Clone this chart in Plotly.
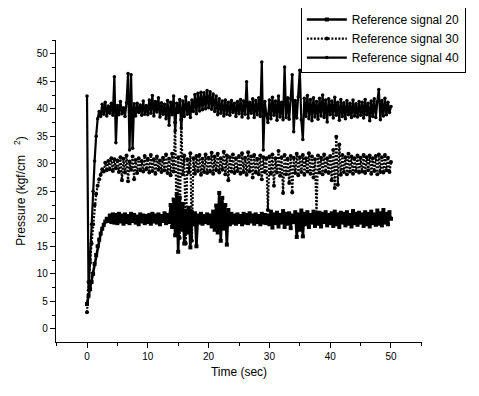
import numpy as np
import plotly.graph_objects as go

# sampling times (s), 0.25 s step
time_s = [round(v, 2) for v in np.arange(0, 50.001, 0.25)]

ref20 = [
    4.5, 6.0, 7.2, 8.5, 10.0, 11.8, 13.4, 15.0, 16.2, 17.3, 18.2, 18.9, 19.5, 20.0, 19.6, 20.6, 19.4, 20.8, 19.3, 20.7,
    19.2, 20.9, 19.5, 20.6, 19.1, 20.8, 19.4, 20.5, 19.2, 20.9, 19.6, 20.7, 19.3, 20.4, 19.0, 20.8, 19.5, 20.6, 19.2, 20.5,
    19.4, 20.7, 19.1, 20.9, 19.5, 20.6, 19.3, 20.8, 19.0, 20.5, 19.6, 21.0, 19.2, 20.7, 19.4, 22.5, 18.5, 23.5, 17.0, 24.5,
    14.0, 23.8, 18.0, 22.7, 15.5, 21.5, 17.5, 22.0, 14.8, 21.2, 19.0, 21.0, 15.0, 20.6, 19.3, 20.9, 19.1, 20.5, 19.4, 20.8,
    19.2, 20.6, 18.6, 21.3, 18.0, 22.4, 17.5, 24.7, 16.0, 23.8, 18.2, 22.5, 15.3, 21.6, 19.0, 20.9, 19.3, 20.6, 19.1, 20.8,
    19.4, 20.5, 19.0, 20.9, 19.3, 20.7, 19.2, 21.0, 19.5, 20.6, 19.1, 20.8, 19.4, 20.5, 19.0, 20.9, 19.3, 20.7, 19.2, 20.6,
    19.0, 21.3, 18.4, 20.8, 19.2, 21.1, 18.6, 20.7, 19.3, 21.4, 18.5, 20.9, 19.1, 21.0, 18.3, 20.6, 19.4, 21.2, 16.7, 20.8,
    18.0, 21.5, 16.8, 20.9, 19.0, 21.2, 18.5, 20.7, 19.3, 21.3, 18.7, 20.8, 19.1, 21.1, 18.6, 20.9, 19.4, 21.2, 18.8, 20.7,
    19.2, 21.0, 18.7, 21.3, 19.0, 20.8, 18.5, 21.1, 19.3, 20.9, 18.8, 21.2, 19.1, 20.7, 18.6, 21.4, 19.2, 20.9, 18.9, 21.1,
    19.3, 20.8, 18.7, 21.2, 19.0, 20.9, 18.6, 21.3, 19.2, 20.8, 18.9, 21.5, 19.1, 21.0, 18.8, 21.6, 19.3, 20.9, 19.0, 21.2, 20.0,
]

ref30 = [
    3.0, 8.5, 12.0, 15.5, 19.0, 22.5, 24.5, 26.0, 27.2, 28.0, 29.0, 28.6, 30.2, 28.8, 30.5, 29.0, 31.0, 28.7, 30.8, 29.2,
    30.6, 28.5, 31.2, 27.0, 30.9, 28.4, 31.5, 26.8, 30.4, 28.9, 31.3, 27.2, 30.7, 28.3, 31.0, 28.8, 30.5, 28.6, 31.4, 29.0,
    30.9, 28.4, 31.6, 28.7, 30.8, 28.2, 31.3, 28.9, 30.6, 28.5, 31.1, 28.8, 31.7, 28.3, 30.9, 27.9, 31.8, 28.6, 37.5, 17.0,
    31.2, 16.5, 38.0, 28.1, 31.5, 15.5, 30.8, 28.4, 31.9, 16.0, 31.0, 28.2, 31.4, 28.7, 31.6, 28.0, 30.9, 28.5, 31.7, 28.3,
    31.1, 28.6, 32.0, 28.2, 31.3, 28.8, 31.8, 28.4, 31.0, 28.9, 32.2, 28.1, 31.5, 27.0, 31.2, 28.6, 31.7, 28.3, 31.0, 28.7,
    31.4, 28.2, 31.9, 28.5, 31.1, 28.0, 32.1, 28.6, 31.3, 27.5, 31.6, 28.4, 30.9, 28.1, 31.5, 27.2, 31.2, 28.5, 31.0, 21.6,
    31.3, 28.2, 31.7, 26.0, 31.0, 28.4, 32.3, 27.8, 31.2, 24.7, 31.6, 28.1, 30.9, 26.5, 31.4, 24.8, 31.1, 28.3, 31.8, 27.9,
    31.2, 28.5, 31.6, 28.0, 31.0, 28.6, 31.9, 28.2, 31.3, 27.5, 30.8, 21.0, 31.5, 28.4, 31.1, 28.1, 31.7, 28.6, 31.0, 28.3,
    31.4, 27.0, 32.5, 25.6, 34.9, 26.2, 33.5, 28.0, 31.6, 28.5, 31.2, 28.1, 31.8, 28.6, 31.3, 28.2, 31.0, 28.7, 31.5, 28.4,
    31.1, 28.6, 31.6, 28.3, 31.2, 28.8, 31.5, 28.2, 31.0, 28.7, 31.4, 28.1, 31.7, 28.5, 31.2, 28.4, 31.6, 28.8, 31.1, 28.5, 30.3,
]

ref40 = [
    42.3, 7.0, 12.5, 19.0, 25.0, 30.5, 35.0, 38.2, 39.5, 38.6, 40.8, 39.0, 41.2, 38.7, 40.5, 39.2, 41.0, 38.8, 45.8, 33.8,
    40.6, 38.9, 41.3, 39.1, 40.2, 38.6, 41.1, 46.4, 32.5, 46.2, 32.8, 40.9, 38.7, 41.0, 39.3, 40.7, 38.8, 41.4, 39.0, 40.6,
    38.9, 41.6, 39.2, 42.4, 38.7, 41.3, 39.4, 42.0, 38.5, 41.1, 39.0, 40.8, 38.2, 41.5, 37.0, 41.2, 38.9, 42.3, 36.0, 41.0,
    39.3, 41.7, 36.5, 41.4, 38.6, 42.2, 39.0, 41.1, 38.4, 41.6, 39.5, 42.6, 39.1, 42.8, 39.6, 43.0, 39.8, 42.9, 40.0, 43.3,
    40.2, 43.1, 39.9, 42.7, 39.5, 42.3, 38.9, 41.8, 39.2, 41.4, 38.7, 41.6, 39.0, 41.2, 38.8, 41.5, 39.3, 41.0, 38.6, 41.3,
    39.1, 41.7, 38.5, 41.4, 39.0, 44.9, 38.3, 41.2, 39.2, 41.8, 38.4, 41.5, 38.9, 42.0, 38.6, 48.5, 32.5, 41.3, 39.0, 37.5,
    41.6, 38.2, 42.1, 38.8, 41.4, 37.9, 42.3, 38.5, 41.2, 38.0, 47.6, 38.4, 42.0, 38.1, 41.8, 46.2, 35.8, 41.5, 38.3, 42.2,
    47.0, 38.0, 34.4, 41.9, 38.6, 42.4, 38.2, 41.7, 37.8, 42.0, 38.5, 41.3, 38.1, 41.9, 38.7, 42.5, 38.4, 41.6, 37.6, 41.8,
    38.9, 41.4, 38.3, 42.1, 38.8, 41.2, 37.9, 41.7, 38.6, 41.1, 38.2, 41.5, 38.9, 41.0, 38.4, 41.6, 38.7, 40.9, 38.5, 41.3,
    38.8, 41.2, 38.3, 41.7, 38.9, 41.0, 37.8, 41.4, 38.6, 41.8, 38.4, 41.3, 43.5, 38.0, 41.5, 38.7, 41.9, 38.9, 41.2, 39.3, 40.4,
]

names = ["Reference signal 20", "Reference signal 30", "Reference signal 40"]

fig = go.Figure()
fig.add_trace(go.Scatter(
    x=time_s, y=ref20, name=names[0], mode="lines+markers",
    line=dict(color="black", width=2.6),
    marker=dict(symbol="square", size=4, color="black"),
))
fig.add_trace(go.Scatter(
    x=time_s, y=ref30, name=names[1], mode="lines+markers",
    line=dict(color="black", width=2.2, dash="2px,1.5px"),
    marker=dict(symbol="circle", size=4, color="black"),
))
fig.add_trace(go.Scatter(
    x=time_s, y=ref40, name=names[2], mode="lines+markers",
    line=dict(color="black", width=2.2),
    marker=dict(symbol="circle", size=3.5, color="black"),
))

axis_common = dict(
    showline=True, linecolor="black", linewidth=1.2,
    ticks="outside", ticklen=5, tickwidth=1.2, tickcolor="black",
    showgrid=False, zeroline=False, automargin=False,
    tickfont=dict(family="Arial, Liberation Sans", size=10, color="black"),
)

# page body has an 8px default margin, so the figure is 8px smaller
fig.update_layout(
    width=471, height=388,
    margin=dict(l=48, r=57, t=32, b=54, autoexpand=False),
    paper_bgcolor="white", plot_bgcolor="white",
    font=dict(family="Arial, Liberation Sans", color="black"),
    xaxis=dict(range=[-5.1, 55.1], tickvals=[0, 10, 20, 30, 40, 50],
               title=dict(text="Time (sec)", font=dict(size=12), standoff=6),
               minor=dict(ticks="outside", ticklen=3, tickwidth=1, tickcolor="black",
                          tickvals=[-5, 5, 15, 25, 35, 45, 55]),
               **axis_common),
    yaxis=dict(range=[-2.4, 52.5], tickvals=[0, 5, 10, 15, 20, 25, 30, 35, 40, 45, 50],
               title=dict(text="Pressure (kgf/cm   <sup>2</sup>)", font=dict(size=12), standoff=8),
               minor=dict(ticks="outside", ticklen=3, tickwidth=1, tickcolor="black",
                          tickvals=[-2.5, 2.5, 7.5, 12.5, 17.5, 22.5, 27.5, 32.5, 37.5, 42.5, 47.5, 52.5]),
               **axis_common),
    legend=dict(x=0.669, y=1.119, xanchor="left", yanchor="top",
                bordercolor="black", borderwidth=1, bgcolor="white",
                font=dict(family="Arial, Liberation Sans", size=12, color="black"),
                tracegroupgap=0, itemwidth=40),
    showlegend=True,
)

fig.write_html("out.html")
